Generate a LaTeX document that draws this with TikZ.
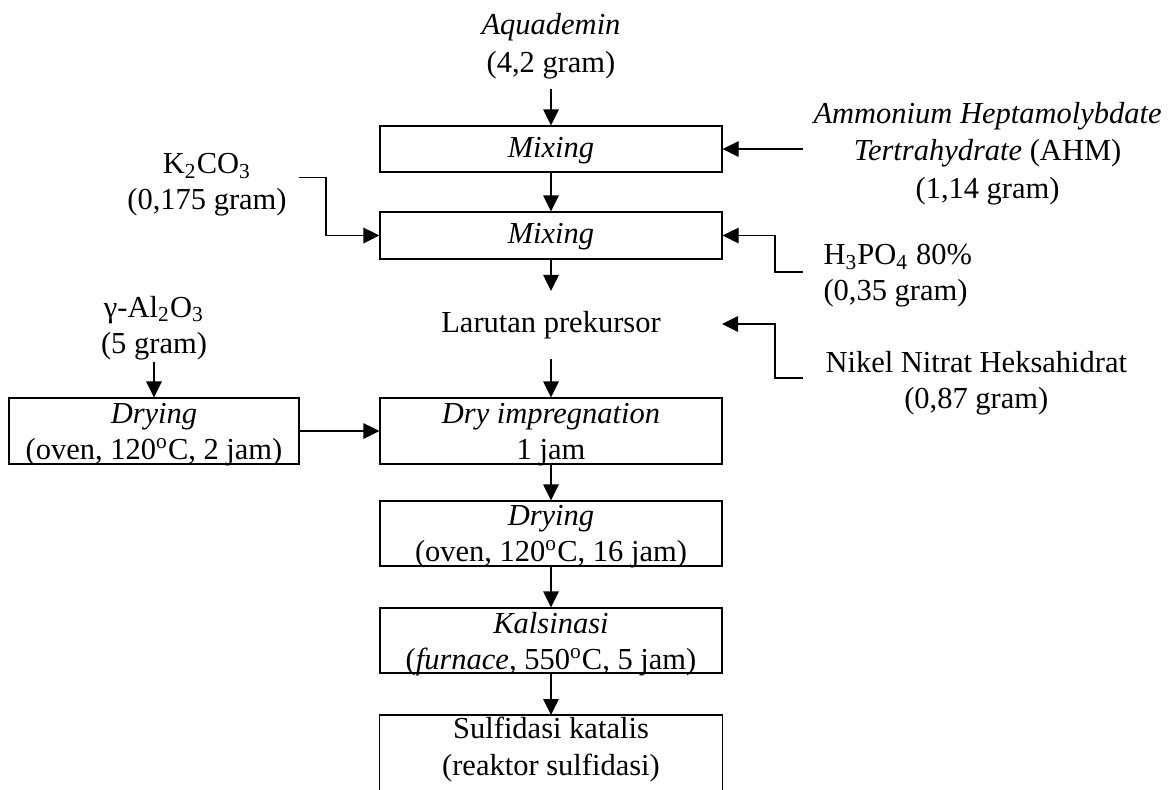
\documentclass[tikz,border=0pt]{standalone}
\usepackage{fontspec}
\setmainfont{Liberation Serif}
\usetikzlibrary{arrows.meta}

% helpers for vertical placement of text inside the boxes
\newcommand\sstrut{\rule{0pt}{9pt}}
\newcommand\nodepth[1]{\raisebox{0pt}[\height][0pt]{#1}}

\tikzset{
  every node/.style={font=\fontsize{12.2}{14.4}\selectfont},
  box/.style={draw, line width=0.45pt, inner sep=0pt, align=center,
              minimum width=136.8pt},
  lbl/.style={inner sep=0pt, align=center},
  arr/.style={-{Triangle[length=6.4pt,width=6.2pt]}, line width=0.45pt},
  ln/.style={line width=0.45pt},
}

\begin{document}
\begin{tikzpicture}[x=0.4pt, y=-0.4pt]
\useasboundingbox (0,0) rectangle (1171,789);
\clip (0,0) rectangle (1171,789);

% raw materials
\node[lbl, inner ysep=4pt] (aqua) at (551,46) {\textit{Aquademin}\\[0.8pt](4,2 gram)};
\node[lbl, inner xsep=4pt, anchor=west] (ahm) at (803,154)
  {\textit{Ammonium Heptamolybdate}\\[0.4pt]\textit{Tertrahydrate} (AHM)\\[0.8pt](1,14 gram)};
\node[lbl, inner xsep=4.8pt] (k2co3) at (207,185) {K\textsubscript{2}CO\textsubscript{3}\\(0,175 gram)};
\node[lbl, inner xsep=8pt, anchor=west, align=left] (h3po4) at (803,276)
  {H\textsubscript{3}PO\textsubscript{4} 80\%\\(0,35 gram)};
\node[lbl, inner xsep=8.8pt, anchor=west] (nikel) at (803,383)
  {Nikel Nitrat Heksahidrat\\(0,87 gram)};
\node[lbl, inner ysep=0.6pt] (gamma) at (154,328) {γ-Al\textsubscript{2}O\textsubscript{3}\\(5 gram)};

% process steps
\node[box, minimum height=18.4pt] (mix1) at (551,149) {\sstrut\textit{Mixing}};
\node[box, minimum height=18.8pt] (mix2) at (551,235.5) {\sstrut\textit{Mixing}};
\node[lbl, inner ysep=7.9pt] (larutan) at (551,325) {Larutan prekursor};
\node[box, minimum width=116pt, minimum height=26.4pt] (dry1) at (154,431)
  {\textit{Drying}\\\nodepth{(oven, 120\textsuperscript{o}C, 2 jam)}};
\node[box, minimum height=26.4pt] (dryimp) at (551,431)
  {\textit{Dry impregnation}\\\nodepth{1 jam}};
\node[box, minimum height=26pt] (dry2) at (551,533.5)
  {\textit{Drying}\\\nodepth{(oven, 120\textsuperscript{o}C, 16 jam)}};
\node[box, minimum height=26pt] (kals) at (551,640.5)
  {\textit{Kalsinasi}\\\nodepth{(\textit{furnace,} 550\textsuperscript{o}C, 5 jam)}};
\node[lbl, anchor=north, minimum width=136.8pt, minimum height=26.4pt] (sulf) at (551,715)
  {\sstrut Sulfidasi katalis\\[0.4pt](reaktor sulfidasi)};
\draw[ln] (sulf.north west) rectangle ([yshift=-12pt]sulf.south east);

% bend points
\coordinate (kb) at (326,235.5);
\coordinate (hb) at (775,235.5);
\coordinate (nb) at (775,324);
\coordinate (nin) at (722,324);

% main flow
\draw[arr] (mix1.north |- aqua.south) -- (mix1.north);
\draw[arr] (mix1.south) -- (mix2.north);
\draw[arr] (mix2.south) -- (larutan.north);
\draw[arr] (larutan.south) -- (dryimp.north);
\draw[arr] (dryimp.south) -- (dry2.north);
\draw[arr] (dry2.south) -- (kals.north);
\draw[arr] (kals.south) -- (sulf.north);

% side feeds
\draw[arr] (ahm.west |- mix1.east) -- (mix1.east);
\draw[arr] ([yshift=3pt]k2co3.east) -| (kb) -- (mix2.west);
\draw[arr] ([yshift=1.6pt]h3po4.west) -| (hb) -- (mix2.east);
\draw[arr] ([yshift=2pt]nikel.west) -| (nb) -- (nin);
\draw[arr] (gamma.south) -- (dry1.north);
\draw[arr] (dry1.east) -- (dryimp.west);
\end{tikzpicture}
\end{document}
